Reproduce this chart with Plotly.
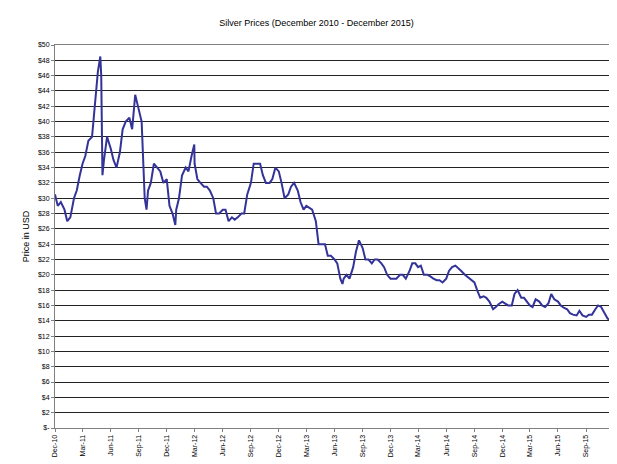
import pandas as pd
import plotly.graph_objects as go

# approximate values read at the 1st, 10th and 20th of each month
prices = {
    '2010-12': [30.5, 29.0, 29.5],
    '2011-01': [28.5, 27.0, 27.5], '2011-02': [30.0, 31.0, 33.0], '2011-03': [34.5, 35.5, 37.5],
    '2011-04': [38.0, 42.0, 46.5], '2011-05': [46.0, 35.0, 38.0], '2011-06': [36.5, 35.0, 34.0],
    '2011-07': [36.0, 39.0, 40.0], '2011-08': [40.5, 39.0, 43.5], '2011-09': [41.5, 40.0, 30.0],
    '2011-10': [31.0, 32.0, 34.5], '2011-11': [34.0, 33.5, 32.0], '2011-12': [32.5, 29.0, 28.0],
    '2012-01': [28.5, 30.0, 33.0], '2012-02': [34.0, 33.5, 35.5], '2012-03': [34.5, 32.5, 32.0],
    '2012-04': [31.5, 31.5, 31.0], '2012-05': [30.0, 28.0, 28.0], '2012-06': [28.5, 28.5, 27.0],
    '2012-07': [27.5, 27.2, 27.5], '2012-08': [28.0, 28.0, 30.5], '2012-09': [32.0, 34.5, 34.5],
    '2012-10': [34.5, 33.0, 32.0], '2012-11': [32.0, 32.5, 34.0], '2012-12': [33.5, 32.0, 30.0],
    '2013-01': [30.5, 31.5, 32.0], '2013-02': [31.0, 29.5, 28.5], '2013-03': [29.0, 28.8, 28.5],
    '2013-04': [27.0, 24.0, 24.0], '2013-05': [24.0, 22.5, 22.5], '2013-06': [22.0, 21.5, 19.5],
    '2013-07': [19.5, 20.0, 19.5], '2013-08': [21.0, 23.0, 24.5], '2013-09': [23.5, 22.0, 22.0],
    '2013-10': [21.5, 22.0, 22.0], '2013-11': [21.5, 21.0, 20.0], '2013-12': [19.5, 19.5, 19.5],
    '2014-01': [20.0, 20.0, 19.5], '2014-02': [20.5, 21.5, 21.5], '2014-03': [21.0, 21.2, 20.0],
    '2014-04': [20.0, 19.8, 19.5], '2014-05': [19.3, 19.3, 19.0], '2014-06': [19.5, 20.5, 21.0],
    '2014-07': [21.2, 20.8, 20.5], '2014-08': [20.0, 19.7, 19.3], '2014-09': [19.0, 18.0, 17.0],
    '2014-10': [17.2, 17.0, 16.5], '2014-11': [15.5, 15.8, 16.2], '2014-12': [16.5, 16.3, 16.0],
    '2015-01': [16.0, 17.5, 18.0], '2015-02': [17.0, 17.0, 16.5], '2015-03': [16.0, 15.8, 16.8],
    '2015-04': [16.5, 16.0, 15.8], '2015-05': [16.3, 17.5, 16.8], '2015-06': [16.5, 16.0, 15.7],
    '2015-07': [15.5, 15.0, 14.8], '2015-08': [14.7, 15.3, 14.7], '2015-09': [14.5, 14.8, 14.8],
    '2015-10': [15.5, 16.0, 15.8], '2015-11': [15.0, 14.3, 14.0], '2015-12': [14.2],
}
# spikes that fall between the regular readings
extra = {'2011-04-28': 48.5, '2011-05-05': 33.0, '2011-08-23': 43.0, '2011-09-26': 28.5,
         '2011-12-29': 26.5, '2012-02-29': 37.0, '2013-06-27': 18.8}

rows = []
for m, vals in prices.items():
    for d, v in zip(['01', '10', '20'], vals):
        rows.append((f'{m}-{d}', v))
rows += list(extra.items())
df = pd.DataFrame(rows, columns=['date', 'price'])
df['date'] = pd.to_datetime(df['date'])
df = df.sort_values('date')

ticks = pd.date_range('2010-12-01', '2015-12-01', freq='3MS')

fig = go.Figure()
fig.add_trace(go.Scatter(x=df['date'], y=df['price'], mode='lines',
    line=dict(color='#333399', width=2)))
fig.update_layout(
    width=617, height=464, showlegend=False,
    paper_bgcolor='white', plot_bgcolor='white',
    margin=dict(l=47, r=11, t=37, b=44),
    font=dict(family='Arial, Liberation Sans', size=7, color='black'),
    title=dict(text='Silver Prices (December 2010 - December 2015)', x=0.5, y=0.975,
               xanchor='center', font=dict(size=9)),
    xaxis=dict(range=[ticks[0], ticks[-1]], tickvals=ticks,
               ticktext=[t.strftime('%b-%y') for t in ticks], tickangle=-90,
               showgrid=False, showline=True, linecolor='#808080', mirror=True,
               ticks='outside', ticklen=3, tickcolor='#808080', automargin=False),
    yaxis=dict(range=[0, 50], tickvals=list(range(0, 51, 2)),
               ticktext=['$-'] + [f'${v}' for v in range(2, 51, 2)],
               showgrid=True, gridcolor='#222222', gridwidth=1,
               showline=True, linecolor='#808080', mirror=True,
               ticks='outside', ticklen=3, tickcolor='#808080',
               title=dict(text='Price in USD', font=dict(size=9), standoff=6)),
)
fig.write_html('out.html')
